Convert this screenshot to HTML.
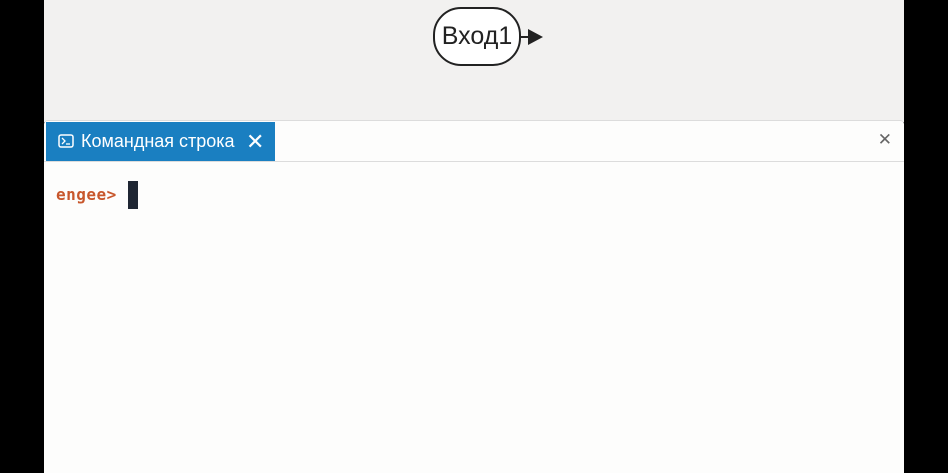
<!DOCTYPE html>
<html><head><meta charset="utf-8"><style>
body{margin:0;width:948px;height:472px;background:#000;position:relative;overflow:hidden;font-family:"Liberation Sans",sans-serif}
#canvas{position:absolute;left:44px;top:0;width:860px;height:122px;background:#f2f1f0}
#panel{position:absolute;left:44px;top:120px;width:860px;height:352px;background:#fdfdfc;border-top:1px solid #dcdcdc;border-radius:4px 4px 0 0}
#tab{position:absolute;left:2px;top:1px;width:229px;height:39px;background:#1a7fc1;color:#fff;font-size:18px;line-height:39px}
#line{position:absolute;left:0;top:40px;width:860px;height:1px;background:#dcdcdc}
#node{position:absolute;left:433px;top:7px;width:84px;height:55px;border:2px solid #222;border-radius:28px;background:#fff;font-size:25px;line-height:55px;text-align:center;color:#222}
</style></head><body>
<div id="canvas"></div>
<div id="node">Вход1</div>
<svg style="position:absolute;left:519px;top:27px" width="26" height="20"><line x1="0" y1="10" x2="10" y2="10" stroke="#222" stroke-width="2"/><polygon points="9,2 24,10 9,18" fill="#222"/></svg>
<div id="panel">
<div id="tab"><svg style="position:absolute;left:12px;top:12px" width="16" height="14"><rect x="1" y="1" width="14" height="12" rx="2" fill="none" stroke="#fff" stroke-width="1.5"/><polyline points="4,4 7,7 4,10" fill="none" stroke="#fff" stroke-width="1.3"/><line x1="8" y1="10" x2="12" y2="10" stroke="#fff" stroke-width="1.3"/></svg><span style="position:absolute;left:35px">Командная строка</span><span style="position:absolute;left:200px;font-size:22px">✕</span></div>
<div style="position:absolute;right:12px;top:9px;color:#666;font-size:17px">✕</div>
<div id="line"></div>
<div style="position:absolute;left:12px;top:64px;color:#c8572c;font-family:'DejaVu Sans Mono','Liberation Mono',monospace;font-weight:bold;font-size:16px;letter-spacing:0.5px">engee&gt;</div>
<div style="position:absolute;left:84px;top:60px;width:10px;height:28px;background:#1f2633"></div>
</div>
</body></html>
